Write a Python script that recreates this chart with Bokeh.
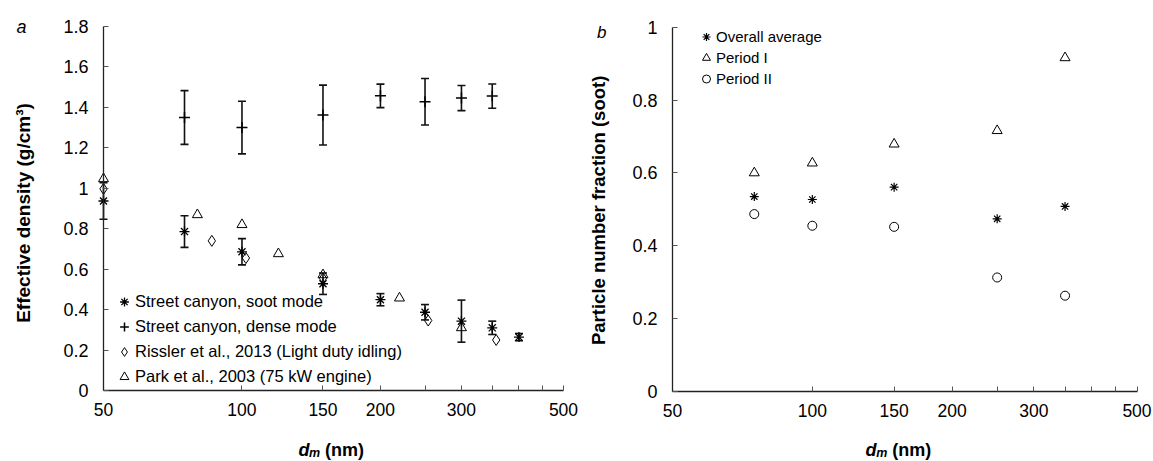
import json
import math
from bokeh.plotting import figure
from bokeh.layouts import row
from bokeh.models import (FixedTicker, CustomJSTickFormatter, Legend, LegendItem, Label, Range1d)
from bokeh.embed import file_html
from bokeh.resources import INLINE

FONT = "Liberation Sans"

# ---------------- data: panel a ----------------
soot_d = [50, 75, 100, 150, 200, 250, 300, 350, 400]
soot_rho = [0.937, 0.786, 0.686, 0.528, 0.449, 0.387, 0.343, 0.310, 0.264]
soot_err = [0.090, 0.078, 0.065, 0.053, 0.030, 0.038, 0.104, 0.033, 0.018]

dense_d = [75, 100, 150, 200, 250, 300, 350]
dense_rho = [1.350, 1.300, 1.362, 1.457, 1.428, 1.446, 1.456]
dense_err = [0.133, 0.130, 0.148, 0.058, 0.115, 0.062, 0.060]

rissler_d = [50, 86, 102, 150, 254, 357]
rissler_rho = [0.997, 0.740, 0.655, 0.555, 0.346, 0.250]

park_d = [50, 80, 100, 120, 150, 220, 300]
park_rho = [1.047, 0.869, 0.820, 0.676, 0.572, 0.457, 0.310]

# ---------------- data: panel b ----------------
frac_d = [75, 100, 150, 250, 350]
overall = [0.535, 0.527, 0.561, 0.474, 0.508]
period1 = [0.600, 0.627, 0.679, 0.716, 0.916]
period2 = [0.487, 0.455, 0.452, 0.313, 0.263]

# ---------------- ticks ----------------
x_ticks = [50, 100, 150, 200, 250, 300, 350, 400, 450, 500]
x_labelled = [50, 100, 150, 200, 300, 500]
y_ticks_a = [0, 0.2, 0.4, 0.6, 0.8, 1.0, 1.2, 1.4, 1.6, 1.8]
y_ticks_b = [0, 0.2, 0.4, 0.6, 0.8, 1.0]

X_MIN, X_MAX = 50, 500
H = 460


def lin_range(v0, v1, q0, q1, total):
    per = (v1 - v0) / (q1 - q0)
    return Range1d(v0 - q0 * per, v0 + (total - q0) * per)


def log_range(v0, v1, q0, q1, total):
    a, b = math.log10(v0), math.log10(v1)
    per = (b - a) / (q1 - q0)
    return Range1d(10 ** (a - q0 * per), 10 ** (a + (total - q0) * per))


def make_fig(width, x_px, y_max, y_px, y_ticks):
    # x_px: pixel (from canvas left) of x=50 and x=500
    # y_px: pixel (from canvas top) of y=0 and y=y_max
    xr = log_range(X_MIN, X_MAX, x_px[0], x_px[1], width)
    yr = lin_range(0, y_max, H - y_px[0], H - y_px[1], H)
    p = figure(x_axis_type="log", x_range=xr, y_range=yr, width=width, height=H,
               min_border=0, min_border_left=0, min_border_right=0,
               min_border_top=0, min_border_bottom=0,
               output_backend="svg", toolbar_location=None)
    p.xgrid.visible = False
    p.ygrid.visible = False
    p.outline_line_color = None
    p.background_fill_color = "white"
    p.border_fill_color = "white"

    p.xaxis.fixed_location = 0
    p.xaxis.bounds = (X_MIN, X_MAX)
    p.yaxis.fixed_location = X_MIN
    p.yaxis.bounds = (0, y_max)

    p.xaxis.ticker = FixedTicker(ticks=x_ticks)
    p.xaxis.formatter = CustomJSTickFormatter(
        code="const lab = %s; return lab.includes(Math.round(tick)) ? String(Math.round(tick)) : '';"
        % json.dumps(x_labelled))
    p.yaxis.ticker = FixedTicker(ticks=y_ticks)
    p.yaxis.formatter = CustomJSTickFormatter(
        code="return tick.toFixed(1).replace(/\\.0$/, '');")
    for ax in (p.xaxis[0], p.yaxis[0]):
        ax.axis_line_color = "#222222"
        ax.axis_line_width = 1.3
        ax.major_tick_line_color = "#555555"
        ax.major_tick_line_width = 1
        ax.major_tick_in = 5
        ax.major_tick_out = 0
        ax.minor_tick_in = 0
        ax.minor_tick_out = 0
        ax.major_label_text_font = FONT
        ax.major_label_text_color = "black"
    p.xaxis.major_label_text_font_size = "17.5px"
    p.yaxis.major_label_text_font_size = "18px"
    p.xaxis.major_label_standoff = 12
    p.yaxis.major_label_standoff = 15
    return p


def txt(p, x, y, dx, dy, text, size, style, **kw):
    p.add_layout(Label(x=x, y=y, x_offset=dx, y_offset=dy, text=text,
                       text_font=FONT, text_font_size=size, text_font_style=style,
                       text_color="black", **kw))


def add_xlabel(p, offsets, y_off):
    dx_d, dx_m, dx_nm = offsets
    txt(p, X_MIN, 0, dx_d, y_off, "d", "18px", "bold italic", text_baseline="alphabetic")
    txt(p, X_MIN, 0, dx_m, y_off - 3, "m", "12.5px", "bold italic", text_baseline="alphabetic")
    txt(p, X_MIN, 0, dx_nm, y_off, "(nm)", "18px", "bold", text_baseline="alphabetic")


def error_bars(p, xs, ys, errs):
    lo = [y - e for y, e in zip(ys, errs)]
    hi = [y + e for y, e in zip(ys, errs)]
    p.segment(x0=xs, y0=lo, x1=xs, y1=hi, line_color="#111111", line_width=1.6)
    p.scatter(xs, lo, marker="dash", size=8, line_color="#111111", line_width=1.6)
    p.scatter(xs, hi, marker="dash", size=8, line_color="#111111", line_width=1.6)


# ================= panel a =================
W_A = 588
pa = make_fig(W_A, (103, 563), 1.8, (390, 26), y_ticks_a)

error_bars(pa, dense_d, dense_rho, dense_err)
error_bars(pa, soot_d, soot_rho, soot_err)

r_park = pa.scatter(park_d, park_rho, marker="triangle", size=10, fill_color=None,
                    line_color="black", line_width=1)
r_ris = pa.scatter(rissler_d, rissler_rho, marker="diamond", size=11, fill_color=None,
                   line_color="black", line_width=1)
r_soot = pa.scatter(soot_d, soot_rho, marker="asterisk", size=10, line_color="black",
                    line_width=1.3)
r_dense = pa.scatter(dense_d, dense_rho, marker="cross", size=11, line_color="black",
                     line_width=1.5)

leg_a = Legend(items=[
    LegendItem(label="Street canyon, soot mode", renderers=[r_soot]),
    LegendItem(label="Street canyon, dense mode", renderers=[r_dense]),
    LegendItem(label="Rissler et al., 2013 (Light duty idling)", renderers=[r_ris]),
    LegendItem(label="Park et al., 2003 (75 kW engine)", renderers=[r_park]),
], location=(113, 71), padding=0, margin=0, spacing=0, label_height=25, glyph_height=25,
    glyph_width=22, label_standoff=0, border_line_color=None, background_fill_alpha=0,
    label_text_font=FONT, label_text_font_size="16.5px", label_text_color="black")
pa.add_layout(leg_a)

txt(pa, X_MIN, 0.9, -80, -4.5, "Effective density (g/cm³)", "19px", "bold",
    angle=math.pi / 2, text_align="center", text_baseline="middle")
add_xlabel(pa, (195, 205.5, 221.5), -59)
txt(pa, X_MIN, 1.8, -87, -0.7, "a", "18px", "italic", text_baseline="alphabetic")

# ================= panel b =================
W_B = 564
pb = make_fig(W_B, (84, 548.5), 1.0, (391, 26.7), y_ticks_b)

r_ov = pb.scatter(frac_d, overall, marker="asterisk", size=9, line_color="black",
                  line_width=1.2)
r_p1 = pb.scatter(frac_d, period1, marker="triangle", size=10, fill_color=None,
                  line_color="black", line_width=1)
r_p2 = pb.scatter(frac_d, period2, marker="circle", size=9, fill_color=None,
                  line_color="black", line_width=1)

leg_b = Legend(items=[
    LegendItem(label="Overall average", renderers=[r_ov]),
    LegendItem(label="Period I", renderers=[r_p1]),
    LegendItem(label="Period II", renderers=[r_p2]),
], location=(108, 371), padding=0, margin=0, spacing=0, label_height=21, glyph_height=21,
    glyph_width=20, label_standoff=0, border_line_color=None, background_fill_alpha=0,
    label_text_font=FONT, label_text_font_size="15px", label_text_color="black")
pb.add_layout(leg_b)

txt(pb, X_MIN, 0.5, -74, -1, "Particle number fraction (soot)", "18.5px", "bold",
    angle=math.pi / 2, text_align="center", text_baseline="middle")
add_xlabel(pb, (193, 203.7, 219.7), -58)
txt(pb, X_MIN, 1.0, -75.5, -4.8, "b", "17px", "italic", text_baseline="alphabetic")

layout = row(pa, pb)
open("out.html", "w").write(file_html(layout, INLINE))
